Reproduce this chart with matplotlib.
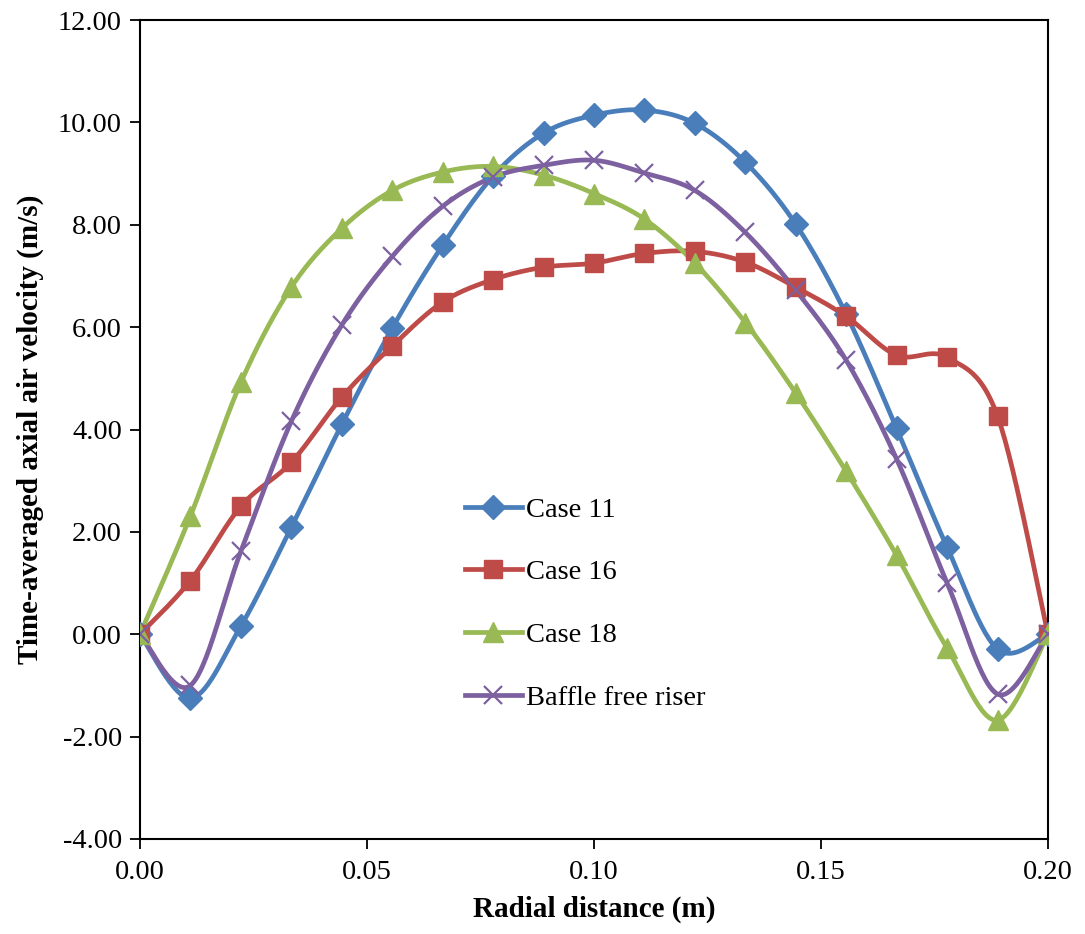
import numpy as np
import matplotlib
matplotlib.use("Agg")
import matplotlib.pyplot as plt
from matplotlib.ticker import FormatStrFormatter, MultipleLocator

plt.rcParams["font.family"] = ["Liberation Serif", "DejaVu Serif"]

# Radial positions (m): 19 equally spaced stations across the riser
radial = np.linspace(0.0, 0.20, 19)

case11 = [0.00, -1.25, 0.16, 2.09, 4.10, 5.98, 7.60, 8.95, 9.79, 10.14,
          10.24, 9.98, 9.22, 8.01, 6.25, 4.02, 1.70, -0.29, 0.00]
case16 = [0.00, 1.05, 2.50, 3.36, 4.63, 5.63, 6.49, 6.93, 7.17, 7.25,
          7.44, 7.48, 7.27, 6.78, 6.21, 5.45, 5.41, 4.26, 0.00]
case18 = [0.00, 2.31, 4.92, 6.78, 7.93, 8.67, 9.03, 9.14, 8.97, 8.61,
          8.11, 7.25, 6.09, 4.71, 3.18, 1.54, -0.27, -1.68, 0.00]
baffle_free = [0.00, -1.00, 1.62, 4.16, 6.04, 7.38, 8.36, 8.93, 9.16, 9.26,
               9.01, 8.67, 7.85, 6.72, 5.35, 3.42, 1.00, -1.17, 0.00]

labels = ["Case 11", "Case 16", "Case 18", "Baffle free riser"]
colors = ["#4A7EBB", "#BE4B48", "#98B954", "#7D60A0"]
markers = ["D", "s", "^", "x"]
msizes = [12, 13.5, 14, 13]


def smooth(x, y, n=30):
    """Cubic Bezier smoothing through every point (Catmull-Rom style)."""
    x = np.asarray(x, float)
    y = np.asarray(y, float)
    pts = np.column_stack([x, y])
    out = []
    t = np.linspace(0, 1, n)[:, None]
    for i in range(len(pts) - 1):
        p0 = pts[i - 1] if i > 0 else pts[i]
        p1 = pts[i]
        p2 = pts[i + 1]
        p3 = pts[i + 2] if i + 2 < len(pts) else pts[i + 1]
        c1 = p1 + (p2 - p0) / 6.0
        c2 = p2 - (p3 - p1) / 6.0
        seg = ((1 - t) ** 3 * p1 + 3 * (1 - t) ** 2 * t * c1
               + 3 * (1 - t) * t ** 2 * c2 + t ** 3 * p2)
        out.append(seg if i == 0 else seg[1:])
    out = np.vstack(out)
    return out[:, 0], out[:, 1]


fig = plt.figure(figsize=(10.85, 9.34), dpi=100)
ax = fig.add_axes([140 / 1085, 1 - 839 / 934, 908 / 1085, 819 / 934])

for ys, lab, c, m, ms in zip([case11, case16, case18, baffle_free],
                             labels, colors, markers, msizes):
    sx, sy = smooth(radial, ys)
    ax.plot(sx, sy, color=c, lw=3.4, solid_capstyle="round", zorder=2)
    kw = dict(markeredgewidth=1.6) if m == "x" else dict(markeredgecolor=c)
    ax.plot(radial, ys, linestyle="none", marker=m, color=c,
            markersize=ms, zorder=3, **kw)
    ax.plot([], [], color=c, lw=3.4, marker=m, markersize=ms,
            label=lab, **kw)

ax.set_xlim(0, 0.20)
ax.set_ylim(-4, 12)
ax.xaxis.set_major_locator(MultipleLocator(0.05))
ax.yaxis.set_major_locator(MultipleLocator(2))
ax.xaxis.set_major_formatter(FormatStrFormatter("%.2f"))
ax.yaxis.set_major_formatter(FormatStrFormatter("%.2f"))
ax.tick_params(direction="out", length=7, width=1.3, labelsize=20.5,
               colors="black")
ax.tick_params(axis="y", pad=6)
ax.tick_params(axis="x", pad=8)
for s in ax.spines.values():
    s.set_linewidth(1.5)
    s.set_color("black")

ax.set_xlabel("Radial distance (m)", fontsize=21, fontweight="bold",
              labelpad=8)
ax.set_ylabel("Time-averaged axial air velocity (m/s)", fontsize=21,
              fontweight="bold", labelpad=10)

leg = ax.legend(loc="upper left", bbox_to_anchor=(0.345, 0.432),
                frameon=False, fontsize=20.5, handlelength=2.0,
                handletextpad=0.15, labelspacing=1.3, borderaxespad=0)

fig.savefig("out.png", dpi=100, facecolor="white")
